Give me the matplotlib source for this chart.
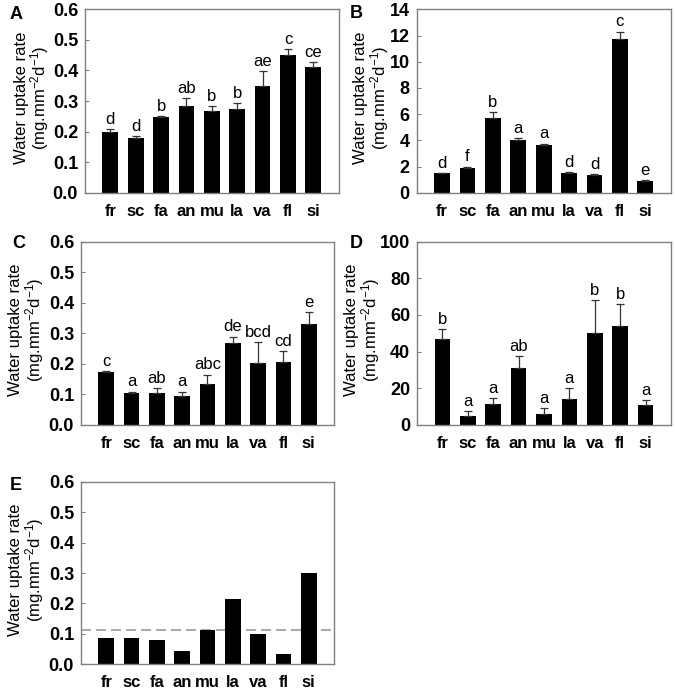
import matplotlib
matplotlib.use("Agg")
import matplotlib.pyplot as plt
import numpy as np

plt.rcParams['font.family'] = ['Liberation Sans', 'DejaVu Sans']
plt.rcParams['mathtext.fontset'] = 'custom'
plt.rcParams['mathtext.rm'] = 'Liberation Sans'
plt.rcParams['mathtext.it'] = 'Liberation Sans:italic'
plt.rcParams['mathtext.bf'] = 'Liberation Sans:bold'

# ── Data ─────────────────────────────────────────────────────────────────────
species = ["fr", "sc", "fa", "an", "mu", "la", "va", "fl", "si"]

a_vals = [0.198, 0.180, 0.249, 0.284, 0.268, 0.274, 0.348, 0.450, 0.411]
a_errs = [0.010, 0.005, 0.002, 0.025, 0.015, 0.020, 0.050, 0.020, 0.017]
a_lett = ["d", "d", "b", "ab", "b", "b", "ae", "c", "ce"]

b_vals = [1.50, 1.85, 5.70, 4.05, 3.65, 1.50, 1.35, 11.75, 0.90]
b_errs = [0.02, 0.15, 0.45, 0.10, 0.10, 0.05, 0.08, 0.55, 0.05]
b_lett = ["d", "f", "b", "a", "a", "d", "d", "c", "e"]

c_vals = [0.173, 0.105, 0.105, 0.095, 0.133, 0.267, 0.202, 0.206, 0.332]
c_errs = [0.004, 0.004, 0.016, 0.014, 0.032, 0.022, 0.070, 0.036, 0.038]
c_lett = ["c", "a", "ab", "a", "abc", "de", "bcd", "cd", "e"]

d_vals = [47.0, 5.0, 11.5, 31.0, 6.0, 14.0, 50.0, 54.0, 11.0]
d_errs = [5.5, 2.5, 3.0, 6.5, 3.0, 6.0, 18.0, 12.0, 2.5]
d_lett = ["b", "a", "a", "ab", "a", "a", "b", "b", "a"]

e_vals = [0.086, 0.086, 0.080, 0.043, 0.112, 0.215, 0.098, 0.035, 0.300]
e_ref = 0.112

ylabel = "Water uptake rate\n(mg.mm$^{-2}$d$^{-1}$)"

# ── Figure ───────────────────────────────────────────────────────────────────
fig = plt.figure(figsize=(6.75, 6.91), dpi=100)

panels = [
    # name, rect, vals, errs, letters, ylim, yticks, fmt, label x, letter pos
    ("A", [0.1259, 0.7211, 0.3759, 0.2654], a_vals, a_errs, a_lett,
     0.6, np.arange(0, 0.61, 0.1), "{:.1f}", -0.207, (10, 19)),
    ("B", [0.6173, 0.7211, 0.3763, 0.2654], b_vals, b_errs, b_lett,
     14, np.arange(0, 15, 2), "{:.0f}", -0.176, (350, 18)),
    ("C", [0.1200, 0.3850, 0.3748, 0.2653], c_vals, c_errs, c_lett,
     0.6, np.arange(0, 0.61, 0.1), "{:.1f}", -0.215, (12, 248)),
    ("D", [0.6178, 0.3850, 0.3763, 0.2653], d_vals, d_errs, d_lett,
     100, np.arange(0, 101, 20), "{:.0f}", -0.212, (350, 248)),
    ("E", [0.1200, 0.0386, 0.3748, 0.2643], e_vals, None, None,
     0.6, np.arange(0, 0.61, 0.1), "{:.1f}", -0.215, (10, 490)),
]

x = np.arange(len(species))
W, H = 675, 691

for name, rect, vals, errs, letters, ymax, yticks, fmt, lx, lpos in panels:
    ax = fig.add_axes(rect)
    ax.bar(x, vals, 0.62, color="black", zorder=2)
    if errs is not None:
        ax.errorbar(x, vals, yerr=[np.zeros(len(vals)), errs], fmt="none",
                    ecolor="#333333", elinewidth=0.9, capsize=3,
                    capthick=0.9, zorder=3)
        for xi, v, e, t in zip(x, vals, errs, letters):
            ax.text(xi, v + e + ymax * 0.012, t, ha="center", va="bottom",
                    fontsize=12)
    else:
        ax.axhline(e_ref, color="#999999", linestyle=(0, (6, 3)),
                   linewidth=1.2, zorder=1)

    ax.set_xlim(-1, 9)
    ax.set_ylim(0, ymax)
    ax.set_yticks(yticks)
    ax.set_yticklabels([fmt.format(t) for t in yticks], fontsize=13,
                       fontweight="bold")
    ax.set_xticks(x)
    ax.set_xticklabels(species, fontsize=12, fontweight="bold")
    ax.tick_params(axis="y", direction="in", length=3, color="#808080",
                   pad=5)
    ax.tick_params(axis="x", length=0, pad=8)
    for s in ax.spines.values():
        s.set_color("#808080")
        s.set_linewidth(1.0)

    ax.text(lx, 0.52, ylabel, transform=ax.transAxes, rotation=90,
            ha="center", va="center", fontsize=12, multialignment="center",
            linespacing=1.0)
    fig.text(lpos[0] / W, 1 - lpos[1] / H, name, fontsize=13,
             fontweight="bold", ha="left", va="baseline")

fig.savefig("out.png", dpi=100)
